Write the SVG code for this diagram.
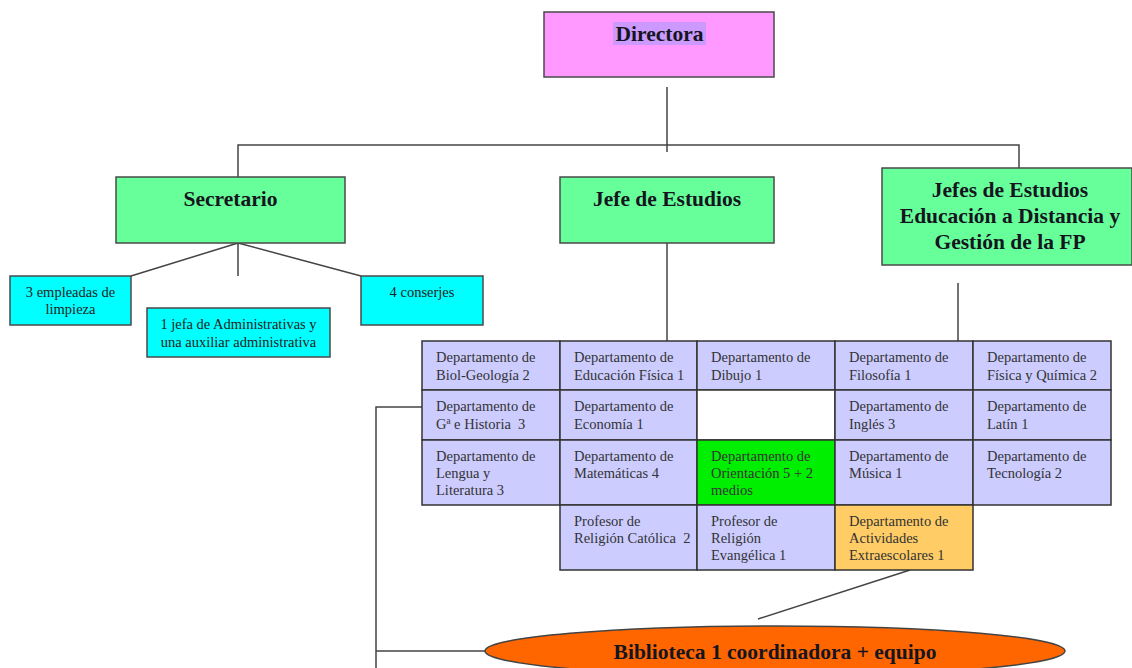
<svg xmlns="http://www.w3.org/2000/svg" width="1132" height="668" viewBox="0 0 1132 668">
<style>
.box{stroke:#4a4a4a;stroke-width:1.5}
.cell{stroke:#333;stroke-width:1.5}
.lav{fill:#ccccff}
.ln{stroke:#444;stroke-width:1.5;fill:none}
.h{font-family:"Liberation Serif",serif;font-weight:bold;font-size:21.5px;fill:#151520;text-anchor:middle}
.s{font-family:"Liberation Serif",serif;font-size:14.5px;fill:#222;text-anchor:middle}
.t{font-family:"Liberation Serif",serif;font-size:14.5px;fill:#333;white-space:pre}
</style>
<rect width="1132" height="668" fill="#fff"/>
<g id="connectors">
<path class="ln" d="M667 87V152M238 177V145H1019V168"/>
<path class="ln" d="M238 243L131 276M238 243V276M238 243L361 276"/>
<path class="ln" d="M667 243V341"/>
<path class="ln" d="M958 283V363"/>
<path class="ln" d="M422 407H376V668M376 651H486"/>
<path class="ln" d="M910 570L758 619"/>
</g>
<g id="directora">
<rect class="box" x="544" y="12" width="230" height="65" fill="#ff99ff"/>
<rect x="613" y="22" width="93" height="23" fill="#cc99ff"/>
<text class="h" x="659.5" y="41">Directora</text>
</g>
<g id="secretario">
<rect class="box" x="116" y="177" width="229" height="66" fill="#66ff99"/>
<text class="h" x="230.5" y="206">Secretario</text>
</g>
<g id="jefe-estudios">
<rect class="box" x="560" y="177" width="214" height="66" fill="#66ff99"/>
<text class="h" x="667" y="206">Jefe de Estudios</text>
</g>
<g id="jefes-estudios-distancia">
<rect class="box" x="882" y="168" width="250" height="97" fill="#66ff99"/>
<text class="h" x="1010" y="197">Jefes de Estudios</text>
<text class="h" x="1010" y="223">Educación a Distancia y</text>
<text class="h" x="1010" y="249">Gestión de la FP</text>
</g>
<g id="limpieza">
<rect class="box" x="10" y="276" width="121" height="49" fill="#00ffff"/>
<text class="s" x="70.5" y="297">3 empleadas de</text>
<text class="s" x="70.5" y="314">limpieza</text>
</g>
<g id="administrativas">
<rect class="box" x="147" y="308" width="183" height="49" fill="#00ffff"/>
<text class="s" x="238.5" y="329">1 jefa de Administrativas y</text>
<text class="s" x="238.5" y="347">una auxiliar administrativa</text>
</g>
<g id="conserjes">
<rect class="box" x="361" y="276" width="122" height="49" fill="#00ffff"/>
<text class="s" x="422" y="297">4 conserjes</text>
</g>
<g id="biol">
<rect class="cell lav" x="422" y="341" width="138" height="49"/>
<text class="t" x="436" y="362">Departamento de</text><text class="t" x="436" y="380">Biol-Geología 2</text>
</g>
<g id="edfisica">
<rect class="cell lav" x="560" y="341" width="137" height="49"/>
<text class="t" x="574" y="362">Departamento de</text><text class="t" x="574" y="380">Educación Física 1</text>
</g>
<g id="dibujo">
<rect class="cell lav" x="697" y="341" width="138" height="49"/>
<text class="t" x="711" y="362">Departamento de</text><text class="t" x="711" y="380">Dibujo 1</text>
</g>
<g id="filosofia">
<rect class="cell lav" x="835" y="341" width="138" height="49"/>
<text class="t" x="849" y="362">Departamento de</text><text class="t" x="849" y="380">Filosofía 1</text>
</g>
<g id="fisica">
<rect class="cell lav" x="973" y="341" width="138" height="49"/>
<text class="t" x="987" y="362">Departamento de</text><text class="t" x="987" y="380">Física y Química 2</text>
</g>
<g id="historia">
<rect class="cell lav" x="422" y="390" width="138" height="50"/>
<text class="t" x="436" y="411">Departamento de</text><text class="t" x="436" y="429">Gª e Historia  3</text>
</g>
<g id="economia">
<rect class="cell lav" x="560" y="390" width="137" height="50"/>
<text class="t" x="574" y="411">Departamento de</text><text class="t" x="574" y="429">Economía 1</text>
</g>
<g id="vacia">
<rect class="cell" x="697" y="390" width="138" height="50" fill="#fff"/>
</g>
<g id="ingles">
<rect class="cell lav" x="835" y="390" width="138" height="50"/>
<text class="t" x="849" y="411">Departamento de</text><text class="t" x="849" y="429">Inglés 3</text>
</g>
<g id="latin">
<rect class="cell lav" x="973" y="390" width="138" height="50"/>
<text class="t" x="987" y="411">Departamento de</text><text class="t" x="987" y="429">Latín 1</text>
</g>
<g id="lengua">
<rect class="cell lav" x="422" y="440" width="138" height="65"/>
<text class="t" x="436" y="461">Departamento de</text><text class="t" x="436" y="478">Lengua y</text><text class="t" x="436" y="495">Literatura 3</text>
</g>
<g id="matematicas">
<rect class="cell lav" x="560" y="440" width="137" height="65"/>
<text class="t" x="574" y="461">Departamento de</text><text class="t" x="574" y="478">Matemáticas 4</text>
</g>
<g id="orientacion">
<rect class="cell" x="697" y="440" width="138" height="65" fill="#00ee00"/>
<text class="t" x="711" y="461">Departamento de</text><text class="t" x="711" y="478">Orientación 5 + 2</text><text class="t" x="711" y="495">medios</text>
</g>
<g id="musica">
<rect class="cell lav" x="835" y="440" width="138" height="65"/>
<text class="t" x="849" y="461">Departamento de</text><text class="t" x="849" y="478">Música 1</text>
</g>
<g id="tecnologia">
<rect class="cell lav" x="973" y="440" width="138" height="65"/>
<text class="t" x="987" y="461">Departamento de</text><text class="t" x="987" y="478">Tecnología 2</text>
</g>
<g id="religion-catolica">
<rect class="cell lav" x="560" y="505" width="137" height="65"/>
<text class="t" x="574" y="526">Profesor de</text><text class="t" x="574" y="543">Religión Católica  2</text>
</g>
<g id="religion-evangelica">
<rect class="cell lav" x="697" y="505" width="138" height="65"/>
<text class="t" x="711" y="526">Profesor de</text><text class="t" x="711" y="543">Religión</text><text class="t" x="711" y="560">Evangélica 1</text>
</g>
<g id="extraescolares">
<rect class="cell" x="835" y="505" width="138" height="65" fill="#ffcc66"/>
<text class="t" x="849" y="526">Departamento de</text><text class="t" x="849" y="543">Actividades</text><text class="t" x="849" y="560">Extraescolares 1</text>
</g>
<g id="biblioteca">
<ellipse cx="775" cy="651" rx="290" ry="25" fill="#ff6600" stroke="#444" stroke-width="1.5"/>
<text class="h" x="775" y="659">Biblioteca 1 coordinadora + equipo</text>
</g>
</svg>
